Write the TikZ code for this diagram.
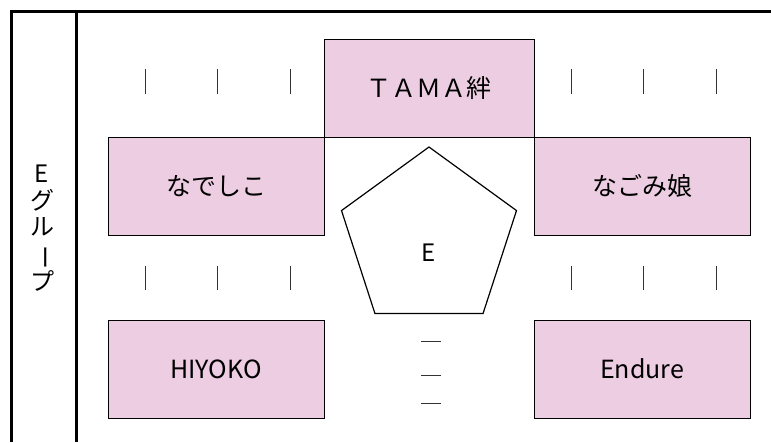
\documentclass[tikz,border=0pt]{standalone}
\usepackage{fontspec}
\setmainfont{Noto Sans CJK JP}
\usepackage{tikz}
\usetikzlibrary{shapes.geometric}
\definecolor{unitpink}{RGB}{237,205,226}

\begin{document}
\begin{tikzpicture}[x=1pt,y=-1pt,
		member/.style={draw, line width=1pt, fill=unitpink, inner sep=0pt, minimum height=98pt, font=\fontsize{25}{28}\selectfont},
		core/.style={draw, line width=1.2pt, regular polygon, regular polygon sides=5, minimum size=184pt, inner sep=0pt},
		tick/.style={line width=0.8pt, black!80}]
			\useasboundingbox (0,0) rectangle (771,442);
			% frame of the group
			\draw[line width=3pt] (11,442) -- (11,11) -- (771,11);
			\draw[line width=3pt] (76,11) -- (76,442);
			\node[align=center, inner sep=0pt, font=\fontsize{24}{26.5}\selectfont] (group) at (42,228) {E\\グ\\ル\\\rotatebox[origin=c]{-90}{ー}\\プ};
			% units
			\node[member, minimum width=210pt] (tama) at (429,88) {ＴＡＭＡ絆};
			\node[member, minimum width=216pt] (nadeshiko) at (216,186) {なでしこ};
			\node[member, minimum width=216pt] (nagomi) at (642,186) {なごみ娘};
			\node[member, minimum width=216pt] (hiyoko) at (216,369) {HIYOKO};
			\node[member, minimum width=216pt] (endure) at (642,369) {Endure};
			\node[core] (center) at (429,239) {};
			\node[font=\fontsize{24}{26}\selectfont] (centerE) at (429,253) {E};
			% bars and dashes
			\foreach \x in {145,217,290,571,643,716} {
				\draw[tick] (\x,69) -- (\x,94);
				\draw[tick] (\x,266) -- (\x,290);
			}
			\foreach \y in {341,375,403}
				\draw[tick] (421,\y) -- (441,\y);
		\end{tikzpicture}
\end{document}
